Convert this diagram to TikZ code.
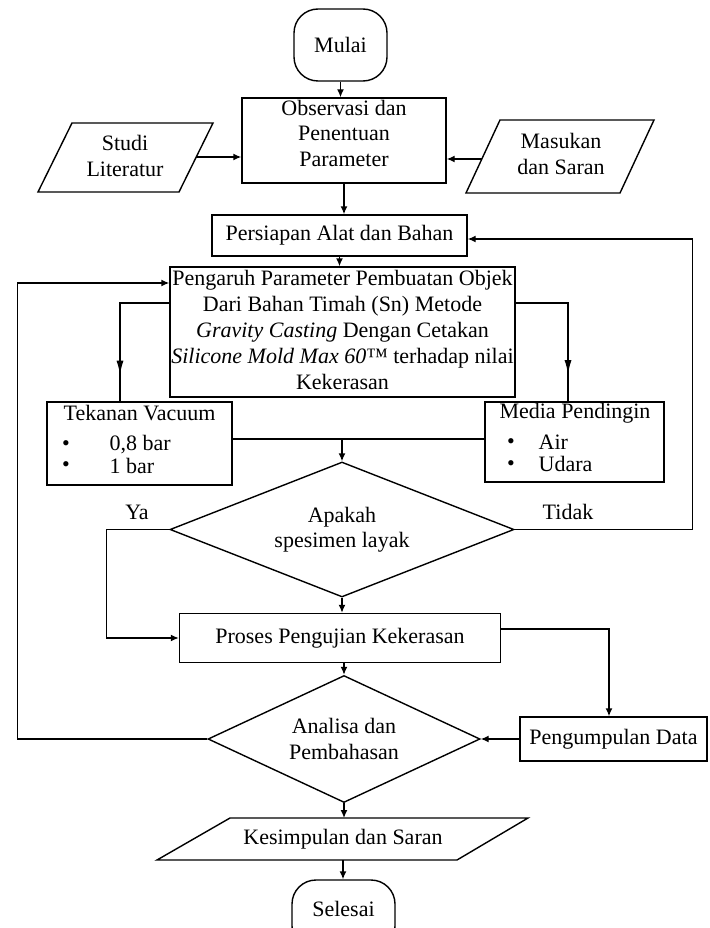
\documentclass[tikz,border=0pt]{standalone}
\usepackage{fontspec}
\setmainfont{Liberation Serif}
\usetikzlibrary{shapes.geometric,arrows.meta,decorations.markings,calc}
\begin{document}
\begin{tikzpicture}[x=1pt,y=-1pt,
  line width=1.4pt,
  font=\fontsize{22}{25.5}\selectfont,
  box/.style={draw, rectangle, inner sep=0pt},
  term/.style={draw, rectangle, rounded corners=24pt, inner sep=0pt},
  dia/.style={draw, diamond, inner sep=0pt, align=center},
  txt/.style={inner sep=0pt, align=center},
  arr/.style={-{Latex[length=8pt,width=7pt]}},
  midarr/.style={postaction={decorate}, decoration={markings,
      mark=at position 0.82 with {\arrow{Latex[length=14pt,width=7pt]}}}},
]
\useasboundingbox (0,0) rectangle (709,928);

% terminals and boxes
\node[term, minimum width=93pt, minimum height=72pt] (mulai) at (340.5,45) {Mulai};
\node[box, minimum width=204pt, minimum height=85pt] (obs) at (344,140.5) {};
\node[txt] (obst) at (344,133) {Observasi dan\\Penentuan\\Parameter};

% Studi Literatur (parallelogram)
\draw (38,192) -- (72,123) -- (213,123) -- (179,192) -- cycle;
\node[txt] (studi) at (125,156) {Studi\\Literatur};
\coordinate (studiR) at (196,157);
\draw[arr] (studiR) -- (obs.west |- studiR);

% Masukan dan Saran (parallelogram)
\draw (466,193) -- (500,120) -- (654,120) -- (620,193) -- cycle;
\node[txt] (masuk) at (561,154) {Masukan\\dan Saran};
\coordinate (masukL) at (482,159);
\draw[arr] (masukL) -- (obs.east |- masukL);

\node[box, minimum width=255pt, minimum height=41pt] (pers) at (339.5,235.5) {Persiapan Alat dan Bahan};

\node[box, minimum width=345pt, minimum height=130pt] (peng) at (342.5,332) {};
\node[txt, font=\fontsize{22}{26}\selectfont] (pengt) at (342.5,330)
  {Pengaruh Parameter Pembuatan Objek\\
   Dari Bahan Timah (Sn) Metode\\
   \textit{Gravity Casting} Dengan Cetakan\\
   \textit{Silicone Mold Max 60}™ terhadap nilai\\
   Kekerasan};

% Tekanan Vacuum
\node[box, minimum width=185pt, minimum height=83pt] (tek) at (139.5,443.5) {};
\node[txt] (tekh) at (139.5,413) {Tekanan Vacuum};
\node[txt] (tekb1) at (66,446) {•};
\node[txt, anchor=west] (tek1) at (109,445) {0,8 bar};
\node[txt] (tekb2) at (66,467) {•};
\node[txt, anchor=west] (tek2) at (109,466) {1 bar};

% Media Pendingin
\node[box, minimum width=179pt, minimum height=80pt] (med) at (574.5,442) {};
\node[txt] (medh) at (575,413) {Media Pendingin};
\node[txt] (medb1) at (511,444) {•};
\node[txt, anchor=west] (med1) at (538,442) {Air};
\node[txt] (medb2) at (511,466) {•};
\node[txt, anchor=west] (med2) at (538,464) {Udara};

% decision 1
\node[dia, minimum width=344pt, minimum height=135pt, aspect=2.55] (dec1) at (342,529.5) {Apakah\\spesimen layak};
\node[txt] (ya) at (137,512) {Ya};
\node[txt] (tidak) at (568,512) {Tidak};

\node[box, minimum width=321pt, minimum height=49pt] (proses) at (340,638) {Proses Pengujian Kekerasan};
\node[box, minimum width=187pt, minimum height=44pt] (kumpul) at (613.5,739) {Pengumpulan Data};

\node[dia, minimum width=272pt, minimum height=127pt, aspect=2.14] (dec2) at (344,739) {Analisa dan\\Pembahasan};

% Kesimpulan dan Saran (parallelogram)
\draw (157,860) -- (230,818) -- (528,818) -- (457,860) -- cycle;
\node[txt] (kes) at (343,839) {Kesimpulan dan Saran};
\coordinate (kestop) at (344,818);
\coordinate (kesbot) at (343,860);

\node[term, minimum width=103pt, minimum height=70pt] (sel) at (343.5,915) {};
\node[txt] (selt) at (343.5,909) {Selesai};

% connectors
\draw[arr] (mulai.south) -- (mulai.south |- obs.north);
\draw[arr] (obs.south) -- (obs.south |- pers.north);
\draw[arr] (pers.south) -- (pers.south |- peng.north);

\draw[midarr] ($(peng.west)+(0,-29)$) -| ($(tek.north)+(-19.5,0)$);
\draw[midarr] ($(peng.east)+(0,-29)$) -| ($(med.north)+(-6.5,0)$);

\coordinate (mrg) at (342,439);
\draw (tek.east |- mrg) -- (med.west |- mrg);
\draw[arr] (mrg) -- (dec1.north);

\draw[arr] (dec1.west) -- ++(-63,0) |- (proses.west);
\draw[arr] (dec1.east) -- ++(178,0) |- ($(pers.east)+(0,3.5)$);

\draw[arr] (dec1.south) -- (dec1.south |- proses.north);
\draw[arr] ($(proses.east)+(0,-9)$) -| ($(kumpul.north)+(-4.5,0)$);
\draw[arr] (proses.south -| dec2.north) -- (dec2.north);
\draw[arr] (kumpul.west) -- (dec2.east);
\draw[arr] (dec2.west) -- ++(-190,0) |- ($(peng.west)+(0,-49)$);

\draw[arr] (dec2.south) -- (kestop);
\draw[arr] (kesbot) -- (sel.north -| kesbot);
\end{tikzpicture}
\end{document}
